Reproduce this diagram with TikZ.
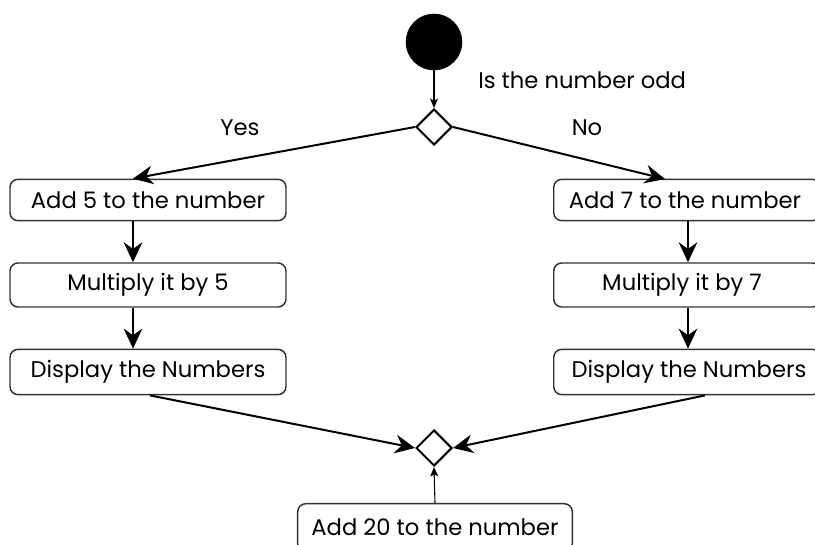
\documentclass[tikz,border=0pt]{standalone}
\usepackage{fontspec}
\newfontfamily\medfont{Poppins}
\usetikzlibrary{arrows.meta,shapes.geometric}
\begin{document}
\begin{tikzpicture}[x=0.75pt,y=-0.75pt,
  actbox/.style={draw=black!80,line width=1.1pt,rounded corners=6pt,fill=white,
    minimum height=31pt,inner sep=0pt,font=\medfont\fontsize{17}{19}\selectfont},
  decide/.style={diamond,draw=black,line width=1.5pt,minimum width=27pt,minimum height=27pt,inner sep=0pt,fill=white},
  flow/.style={line width=1.5pt,-{Stealth[length=15pt,width=14pt,inset=5pt]}},
  thinflow/.style={line width=0.8pt,-{Stealth[length=7pt,width=6pt,inset=1.5pt]}},
  lbl/.style={font=\medfont\fontsize{17}{19}\selectfont,inner sep=0pt}]
\useasboundingbox (0,0) rectangle (815,545);
\clip (0,0) rectangle (815,545);

% start node
\node[circle,fill=black,draw=black,minimum size=42pt,inner sep=0pt] (start) at (434,42) {};
% decision and merge
\node[decide] (d1) at (434,127) {};
\node[decide] (d2) at (434,448) {};

% left branch
\node[actbox,minimum width=207pt] (l1) at (148,200) {Add 5 to the number};
\node[actbox,minimum width=207pt,minimum height=33pt] (l2) at (148,285) {Multiply it by 5};
\node[actbox,minimum width=207pt,minimum height=34pt] (l3) at (148,372) {Display the Numbers};

% right branch (runs past the right margin)
\node[actbox,minimum width=200pt,anchor=west] (r1) at (553,200) {};
\node[lbl] at (685,200) {Add 7 to the number};
\node[actbox,minimum width=200pt,minimum height=33pt,anchor=west] (r2) at (553,285) {};
\node[lbl] at (682,285) {Multiply it by 7};
\node[actbox,minimum width=200pt,minimum height=34pt,anchor=west] (r3) at (553,372) {};
\node[lbl] at (689,372) {Display the Numbers};

% final action (runs past the bottom margin)
\node[actbox,minimum width=206pt,minimum height=36pt,anchor=north] (f) at (435,503) {};
\node[lbl] at (435,527) {Add 20 to the number};

% labels
\node[lbl,anchor=west] (q) at (478,80) {Is the number odd};
\node[lbl] (yes) at (240,128) {Yes};
\node[lbl] (no) at (587,128) {No};

% connectors
\draw[thinflow] (start.south) -- (d1.north);
\draw[flow] (d1.west) -- (l1.north -| 133,0);
\draw[flow] (d1.east) -- (665,179);
\draw[flow] (l1.south -| 133,0) -- (l2.north -| 133,0);
\draw[flow] (l2.south -| 133,0) -- (l3.north -| 133,0);
\draw[flow] (r1.south -| 688,0) -- (r2.north -| 688,0);
\draw[flow] (r2.south -| 688,0) -- (r3.north -| 688,0);
\draw[flow] (l3.south -| 150,0) -- (d2.west);
\draw[flow] (r3.south -| 705,0) -- (d2.east);
\draw[thinflow] (f.north) -- (d2.south);
\end{tikzpicture}
\end{document}
